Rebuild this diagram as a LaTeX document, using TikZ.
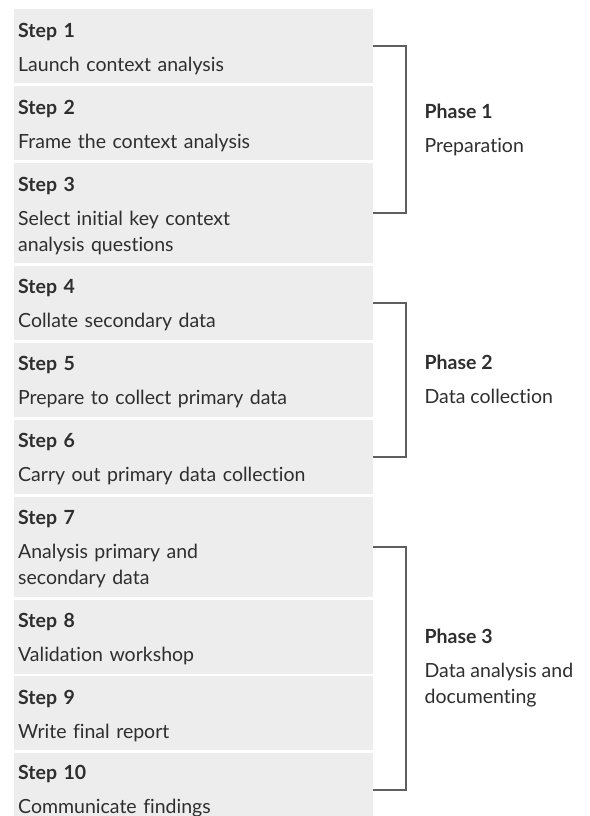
\documentclass[tikz,border=0pt]{standalone}
\usepackage{fontspec}
\setmainfont{Lato}[Ligatures=NoCommon]
\usetikzlibrary{calc,positioning}
\definecolor{boxgray}{HTML}{EDEDED}
\definecolor{textgray}{HTML}{2E2E2E}
\definecolor{linegray}{HTML}{5F5F5F}
\newcommand{\steptext}[2]{\rule{0pt}{28pt}\textbf{#1}\\[8pt]#2\rule[-12pt]{0pt}{12pt}}
\tikzset{
    x=1pt,y=-1pt,node distance =2.5pt,
    stepbox/.style ={rectangle, fill=boxgray, anchor=north west, text width=351pt,
        inner xsep=4pt, inner ysep=0pt, align=left, text=textgray,
        font=\fontsize{19.5}{26}\selectfont},
    phase/.style = {anchor=west, inner sep=0pt, align=left, text=textgray,
        font=\fontsize{19.5}{26}\selectfont},
    bracket/.style={draw=linegray, line width=2pt}
}
\begin{document}
\begin{tikzpicture}
    \useasboundingbox (0,0) rectangle (589,816);
        \node[stepbox] (s1) at (14,9) {\steptext{Step 1}{Launch context analysis}};
        \node[stepbox, below=of s1] (s2) {\steptext{Step 2}{Frame the context analysis}};
        \node[stepbox, below=of s2] (s3) {\steptext{Step 3}{Select initial key context\\analysis questions}};
        \node[stepbox, below=of s3] (s4) {\steptext{Step 4}{Collate secondary data}};
        \node[stepbox, below=of s4] (s5) {\steptext{Step 5}{Prepare to collect primary data}};
        \node[stepbox, below=of s5] (s6) {\steptext{Step 6}{Carry out primary data collection}};
        \node[stepbox, below=of s6] (s7) {\steptext{Step 7}{Analysis primary and\\secondary data}};
        \node[stepbox, below=of s7] (s8) {\steptext{Step 8}{Validation workshop}};
        \node[stepbox, below=of s8] (s9) {\steptext{Step 9}{Write final report}};
        % last box runs off the bottom edge
        \node[stepbox, below=of s9] (s10) {\rule{0pt}{26pt}\textbf{Step 10}\\[8pt]Communicate findings\rule[-14pt]{0pt}{14pt}};

        \draw[bracket] (s1.east) -- ++(33,0) |- (s3.east);
        \draw[bracket] (s4.east) -- ++(33,0) |- (s6.east);
        \draw[bracket] (s7.east) -- ++(33,0) |- (s10.east);

        \node[phase] (p1) at ($(s1.east)!0.5!(s3.east)+(51,0)$) {\textbf{Phase 1}\\[8pt]Preparation};
        \node[phase] (p2) at ($(s4.east)!0.5!(s6.east)+(51,0)$) {\textbf{Phase 2}\\[8pt]Data collection};
        \node[phase] (p3) at ($(s7.east)!0.5!(s10.east)+(51,0)$) {\textbf{Phase 3}\\[8pt]Data analysis and\\documenting};
    \end{tikzpicture}
\end{document}
